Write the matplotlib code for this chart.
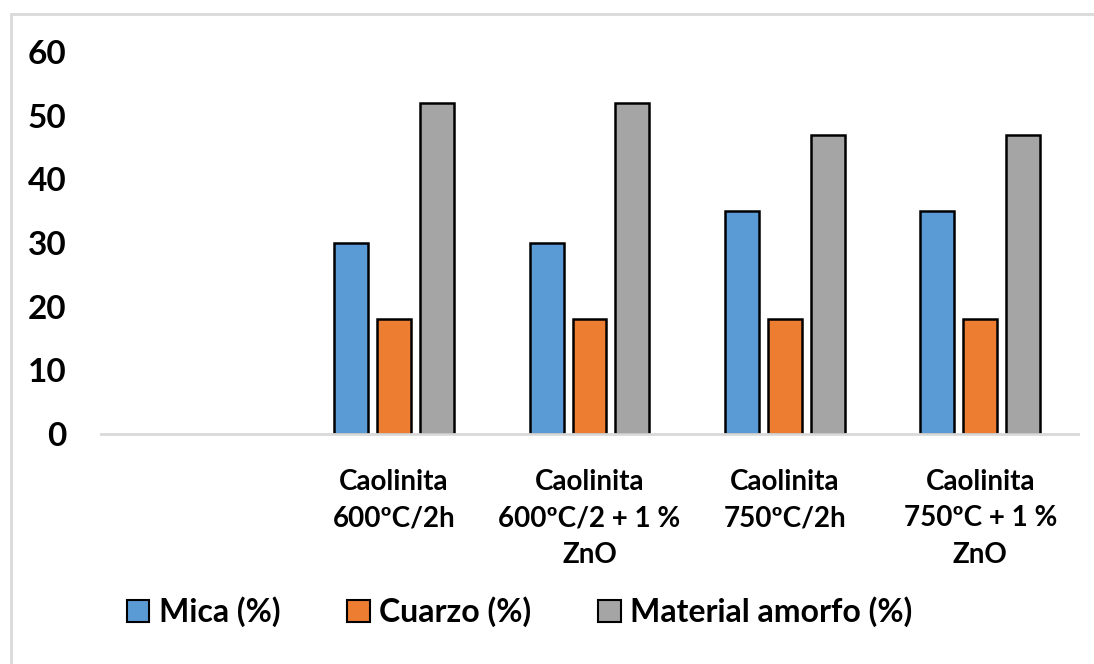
import matplotlib.pyplot as plt
import numpy as np
from matplotlib.patches import Patch, Rectangle

categories = ["", "Caolinita\n600ºC/2h", "Caolinita\n600ºC/2 + 1 %\nZnO",
              "Caolinita\n750ºC/2h", "Caolinita\n750ºC + 1 %\nZnO"]
series_names = ["Mica (%)", "Cuarzo (%)", "Material amorfo (%)"]
mica = [np.nan, 30, 30, 35, 35]
cuarzo = [np.nan, 18, 18, 18, 18]
amorfo = [np.nan, 52, 52, 47, 47]
colors = ["#5B9BD5", "#ED7D31", "#A5A5A5"]

font = ["Lato", "DejaVu Sans"]
plt.rcParams['font.family'] = font
plt.rcParams['font.weight'] = 'bold'

W, H = 1094, 664
fig = plt.figure(figsize=(W / 100, H / 100), dpi=100)
ax = fig.add_axes([101 / W, 1 - 434 / H, (1078 - 101) / W, (434 - 52) / H])

x = np.arange(len(categories))
width = 0.174
step = 0.22
for i, (vals, name) in enumerate(zip([mica, cuarzo, amorfo], series_names)):
    ax.bar(x + (i - 1) * step, vals, width, color=colors[i], edgecolor="black",
           linewidth=1.8, label=name, zorder=3)

ax.set_xlim(-0.5, len(categories) - 0.5)
ax.set_ylim(0, 60)
ax.set_yticks(range(0, 61, 10))
ax.set_xticks(x)
ax.set_xticklabels(categories, fontsize=20, fontweight='bold', linespacing=1.5)
ax.tick_params(axis='y', length=0, labelsize=24, pad=25)
ax.tick_params(axis='x', length=0, pad=25)
for lab in ax.get_yticklabels():
    lab.set_fontweight('bold')

for s in ["top", "right", "left"]:
    ax.spines[s].set_visible(False)
ax.spines["bottom"].set_color("#d9d9d9")
ax.spines["bottom"].set_linewidth(2)
ax.spines["bottom"].set_zorder(4)

handles = [Patch(facecolor=c, edgecolor="black", linewidth=1.5) for c in colors]
fig.legend(handles, series_names, loc="center", bbox_to_anchor=(0.475, 1 - 612 / H),
           ncol=3, frameon=False, prop={'weight': 'bold', 'size': 23},
           handlelength=0.7, handleheight=0.7, handletextpad=0.3, columnspacing=2.1)

fig.patches.append(Rectangle((11 / W, -0.1), 1.2, (H - 14) / H + 0.1,
                             transform=fig.transFigure, fill=False,
                             edgecolor="#d9d9d9", linewidth=2))

fig.savefig("out.png", dpi=100, facecolor="white")
